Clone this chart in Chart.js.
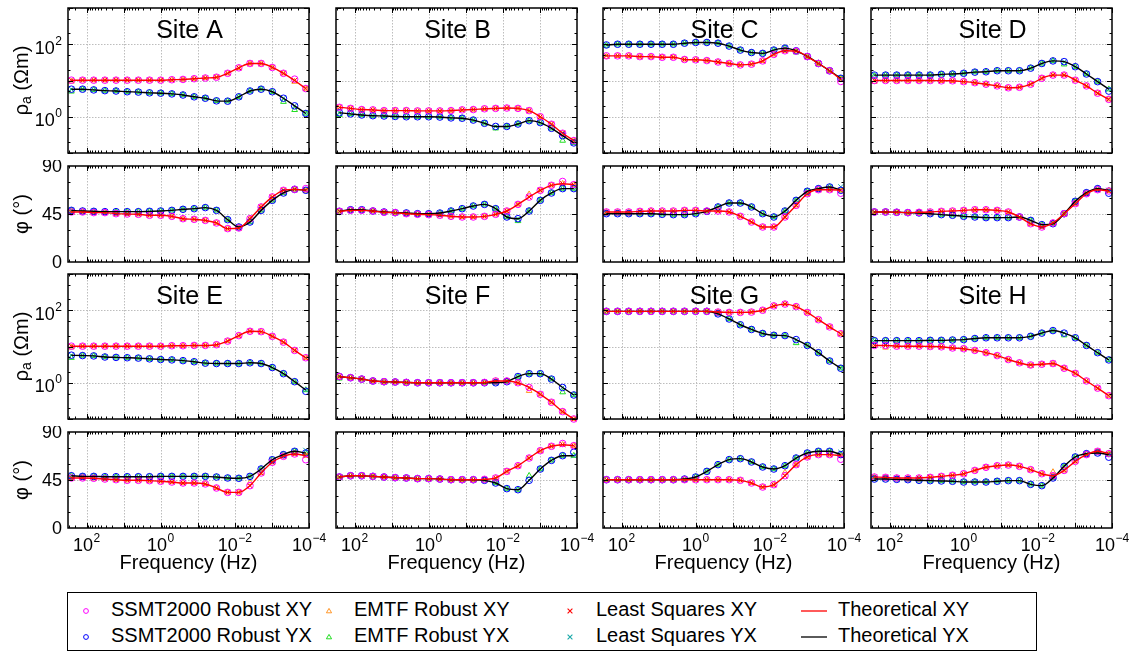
<!DOCTYPE html>
<html>
<head>
<meta charset="utf-8">
<script src="https://cdn.jsdelivr.net/npm/chart.js@4.4.0/dist/chart.umd.min.js"></script>
<style>
  html, body { margin: 0; padding: 0; background: #fff; }
  body { position: relative; width: 1137px; height: 652px; overflow: hidden;
         font-family: "Liberation Sans", Arial, sans-serif; color: #000; }
  canvas { position: absolute; }
  #legend { position: absolute; left: 67px; top: 592px; width: 970px; height: 59px;
            border: 1.5px solid #000; box-sizing: border-box; background: #fff; }
  .lt { position: absolute; font-size: 20px; line-height: 22px; white-space: nowrap; }
  .lm { position: absolute; }
</style>
</head>
<body>
<div id="legend"></div>
<script>
// ---------------- data ----------------
const SITES = ['A', 'B', 'C', 'D', 'E', 'F', 'G', 'H'];

// sounding frequencies (Hz), halving from 256 Hz
const FREQ_HZ = [256, 128, 64, 32, 16, 8, 4, 2, 1, 0.5, 0.25, 0.125, 0.0625, 0.03125,
  0.015625, 0.0078125, 0.00390625, 0.001953125, 0.0009765625, 0.00048828125,
  0.000244140625, 0.0001220703125];

// axis tick labels
const FREQ_TICK_EXPONENTS = [2, 0, -2, -4];
const RHO_TICK_EXPONENTS = [0, 2];
const PHASE_TICKS = [0, 45, 90];

// theoretical responses: apparent resistivity (Ohm m) and phase (deg)
const siteA_rhoXY = [10.2,10.2,10.2,10.2,10.2,10.2,10.2,10.2,10.2,10.5,10.7,11.2,11.7,12.3,15.8,22.4,29.5,29.5,22.9,15.8,10.0,6.0];
const siteA_rhoYX = [5.75,5.75,5.5,5.25,5.13,4.9,4.79,4.57,4.47,4.27,3.98,3.55,3.24,2.75,2.69,3.55,5.13,5.75,4.9,3.24,2.0,1.23];
const siteA_phXY  = [46.9,46.9,46.3,46.3,45.3,45.0,44.7,43.8,43.8,42.8,40.6,40.0,39.0,36.6,31.3,31.9,40.6,51.6,61.0,67.2,68.1,67.2];
const siteA_phYX  = [48.4,47.8,47.5,47.2,47.2,47.2,47.2,47.5,47.8,48.4,49.4,50.0,51.0,48.4,39.7,32.8,37.5,48.4,57.8,64.7,68.1,67.2];

const siteB_rhoXY = [1.82,1.70,1.58,1.55,1.48,1.48,1.48,1.45,1.45,1.45,1.48,1.55,1.58,1.66,1.70,1.74,1.70,1.48,1.0,0.62,0.35,0.22];
const siteB_rhoYX = [1.29,1.20,1.12,1.07,1.05,1.02,1.0,1.0,1.0,0.98,0.93,0.91,0.81,0.66,0.54,0.54,0.63,0.78,0.69,0.48,0.30,0.19];
const siteB_phXY  = [47.5,48.4,48.4,47.8,46.6,46.3,45.3,44.7,44.4,43.8,42.8,42.2,42.2,42.8,44.7,47.8,54.0,60.9,67.2,71.9,73.4,72.5];
const siteB_phYX  = [47.5,49.0,49.0,47.8,46.9,46.3,46.0,45.3,45.3,45.9,47.8,50.0,52.5,54.0,50.0,42.2,40.6,47.8,57.8,64.7,68.8,68.8];

const siteC_rhoXY = [47.9,47.9,47.9,45.7,45.7,43.7,43.7,38.0,37.2,35.5,32.4,29.5,26.9,28.2,34.7,52.5,66.0,64.6,45.7,29.5,18.6,10.7];
const siteC_rhoYX = [95.5,100,100,100,100,100,100,107,112,112,107,89,69,59,56,69,78,66,46,29.5,18.6,11.5];
const siteC_phXY  = [46.9,46.9,46.9,47.5,47.8,47.8,47.8,48.4,48.4,47.8,47.8,46.9,42.8,37.5,32.8,32.8,42.2,53.1,64.0,67.8,67.8,67.2];
const siteC_phYX  = [45.3,45.3,45.3,45.3,45.3,44.7,44.4,44.4,45.3,47.5,51.6,55.3,55.3,51.6,45.3,42.2,47.8,57.8,66.3,68.8,70.3,67.2];

const siteD_rhoXY = [10,10,10,10,10,10,9.8,9.8,9.3,8.7,7.9,7.1,6.3,6.5,7.9,11.5,14.1,14.1,10.2,7.1,4.47,3.02];
const siteD_rhoYX = [14.1,14.1,14.1,14.1,14.1,14.1,14.8,15.1,15.8,17.0,17.4,18.6,18.6,18.6,21.9,29.5,34.7,33.1,24.0,15.1,9.3,5.75];
const siteD_phXY  = [46.9,46.9,46.6,46.3,46.6,46.9,47.5,47.8,48.4,49.0,49.0,48.4,46.9,42.2,35.9,32.8,36.6,45.3,54.7,64.0,67.8,66.6];
const siteD_phYX  = [46.9,46.9,46.6,46.3,46.0,45.3,44.4,43.8,42.8,42.2,41.6,41.6,41.6,42.2,39.0,35.0,35.9,45.3,56.9,65.0,68.8,67.2];

const siteE_rhoXY = [10.2,10.2,10.2,10.2,10.2,10.2,10.2,10.2,10.2,10.5,10.5,10.7,10.7,11.2,14.1,20.0,26.3,25.7,19.1,13.2,7.8,4.9];
const siteE_rhoYX = [5.75,5.62,5.5,5.13,5.0,4.9,4.79,4.57,4.37,4.27,4.07,3.8,3.47,3.39,3.39,3.39,3.55,3.39,2.63,1.78,1.07,0.63];
const siteE_phXY  = [46.9,46.9,46.6,45.9,45.3,44.7,44.7,44.4,43.8,43.1,42.2,42.2,41.3,37.5,33.4,33.4,39.7,51.6,61.6,67.2,69.4,67.8];
const siteE_phYX  = [49.0,48.4,48.4,48.1,48.1,48.1,48.1,48.1,48.4,48.4,48.4,48.4,48.4,47.8,46.9,46.6,48.4,55.3,64.0,68.8,71.9,70.3];

const siteF_rhoXY = [1.48,1.38,1.26,1.12,1.07,1.05,1.02,1,1,1,1,1,1,1.02,1.12,1.12,1.0,0.74,0.48,0.29,0.16,0.1];
const siteF_rhoYX = [1.48,1.38,1.26,1.12,1.07,1.05,1.02,1,1,1,1,1,1,1,1,1.07,1.48,1.78,1.78,1.26,0.74,0.46];
const siteF_phXY  = [47.8,49.0,49.0,48.4,47.8,47.2,46.9,46.3,46.3,45.9,45.3,45.3,45.3,45.6,46.9,53.1,58.4,65.6,72.5,76.6,78.1,77.2];
const siteF_phYX  = [47.8,49.0,49.0,48.4,47.8,47.2,46.9,46.3,46.3,45.9,45.3,45.3,45.3,44.7,42.2,36.9,35.9,44.7,55.3,63.4,67.8,67.8];

const siteG_rhoXY = [93.3,93.3,93.3,93.3,93.3,93.3,93.3,93.3,93.3,93.3,89.1,87.1,87.1,89.1,100,132,148,126,87.1,55.0,34.7,22.4];
const siteG_rhoYX = [93.3,93.3,93.3,93.3,93.3,93.3,93.3,93.3,93.3,93.3,79.4,57.5,39.8,29.5,22.9,20.4,20.0,15.5,10.7,6.76,3.98,2.51];
const siteG_phXY  = [45.3,45.3,45.3,45.3,45.3,45.3,45.3,45.3,45.3,45.3,45.3,45.3,44.7,42.2,38.4,40.6,49.0,59.4,66.6,68.8,68.8,67.8];
const siteG_phYX  = [45.3,45.3,45.3,45.3,45.3,45.3,45.3,45.9,47.8,53.1,59.4,64.1,65.0,61.9,57.2,55.3,58.4,65.6,70.3,71.9,71.9,68.8];

const siteH_rhoXY = [10.7,10.7,10.2,10.2,10.2,10.0,9.8,9.1,8.7,7.8,6.76,5.62,4.37,3.55,3.09,3.24,3.39,2.51,1.82,1.12,0.71,0.44];
const siteH_rhoYX = [14.5,14.5,14.5,14.5,14.5,14.8,14.8,15.1,15.5,16.6,17.4,17.4,17.4,17.4,19.1,23.4,27.5,23.4,17.4,10.7,6.76,4.27];
const siteH_phXY  = [47.8,47.5,46.9,46.9,46.9,47.5,48.4,49.4,50.9,54.0,56.9,58.4,59.0,57.8,54.7,50.9,49.0,54.0,62.5,68.8,71.9,69.7];
const siteH_phYX  = [45.9,45.9,45.6,45.3,44.7,44.4,44.1,43.8,43.1,43.1,43.1,43.8,44.4,44.4,40.9,39.7,46.9,57.8,66.6,69.7,70.3,68.8];

// processed estimates that depart from the model curve:
// [site, method, quantity, frequency index, value]
const ESTIMATE_DEPARTURES = [
  ['A','emtf','rhoXY',0,9.4], ['A','emtf','rhoYX',0,5.0], ['A','ssmt','rhoXY',20,10.9],
  ['A','emtf','rhoXY',20,9.3], ['A','emtf','rhoYX',19,2.6], ['A','emtf','rhoYX',20,1.55],
  ['A','ssmt','phXY',21,68.8],
  ['B','emtf','rhoYX',0,1.13], ['B','emtf','rhoYX',14,0.48], ['B','emtf','rhoYX',20,0.22],
  ['B','ssmt','phXY',20,75.5], ['B','emtf','phYX',16,38.5], ['B','emtf','phXY',17,63.5],
  ['C','emtf','rhoYX',0,92], ['C','emtf','rhoXY',0,45], ['C','ssmt','rhoXY',21,9.4],
  ['C','emtf','rhoYX',17,60], ['C','ssmt','phXY',21,64.5], ['C','ls','phYX',21,70.5],
  ['D','emtf','rhoYX',0,13.5], ['D','emtf','rhoXY',0,9.3], ['D','ssmt','rhoYX',21,5.1],
  ['D','ssmt','phYX',21,64.5], ['D','emtf','rhoYX',17,28],
  ['E','emtf','rhoYX',0,4.9], ['E','emtf','rhoXY',0,9.5], ['E','ssmt','phXY',21,64.0],
  ['E','ls','phYX',21,72.8], ['E','emtf','phXY',16,42.5], ['E','ssmt','rhoYX',21,0.58],
  ['F','emtf','rhoYX',0,1.32], ['F','emtf','rhoXY',17,0.6], ['F','emtf','rhoYX',20,0.55],
  ['F','ssmt','phXY',20,79.2], ['F','ssmt','phYX',21,71.0], ['F','emtf','phYX',17,49.0],
  ['G','emtf','rhoYX',0,90], ['G','emtf','rhoYX',17,12.5], ['G','ssmt','phXY',21,64.5],
  ['G','ls','phYX',21,71.0], ['G','emtf','phXY',16,52.0],
  ['H','emtf','rhoXY',1,9.4], ['H','emtf','rhoYX',17,20.5], ['H','ssmt','phYX',21,66.4],
  ['H','emtf','rhoXY',14,2.95], ['H','emtf','phXY',16,52.5]
];

// model table built from the per-site arrays
const MODEL = {
  A: { rhoXY: siteA_rhoXY, rhoYX: siteA_rhoYX, phXY: siteA_phXY, phYX: siteA_phYX },
  B: { rhoXY: siteB_rhoXY, rhoYX: siteB_rhoYX, phXY: siteB_phXY, phYX: siteB_phYX },
  C: { rhoXY: siteC_rhoXY, rhoYX: siteC_rhoYX, phXY: siteC_phXY, phYX: siteC_phYX },
  D: { rhoXY: siteD_rhoXY, rhoYX: siteD_rhoYX, phXY: siteD_phXY, phYX: siteD_phYX },
  E: { rhoXY: siteE_rhoXY, rhoYX: siteE_rhoYX, phXY: siteE_phXY, phYX: siteE_phYX },
  F: { rhoXY: siteF_rhoXY, rhoYX: siteF_rhoYX, phXY: siteF_phXY, phYX: siteF_phYX },
  G: { rhoXY: siteG_rhoXY, rhoYX: siteG_rhoYX, phXY: siteG_phXY, phYX: siteG_phYX },
  H: { rhoXY: siteH_rhoXY, rhoYX: siteH_rhoYX, phXY: siteH_phXY, phYX: siteH_phYX }
};

function estimate(site, method, q) {
  const vals = MODEL[site][q].slice();
  for (const [s, m, qq, i, v] of ESTIMATE_DEPARTURES) {
    if (s === site && m === method && qq === q) vals[i] = v;
  }
  return vals;
}

// ---------------- layout & styles ----------------
const FONT = '"Liberation Sans", Arial, sans-serif';
const COL_LEFT = [68, 336, 603, 871];
const PLOT_W = 241;
const ROWS = [ { rhoTop: 8, phTop: 166 }, { rhoTop: 274, phTop: 432 } ];
const RHO_H = 145, PH_H = 96;
const PAD = { left: 64, right: 36, top: 6, bottom: 54 };
const X_MIN = 1e-4, X_MAX = Math.pow(10, 2.5);

const METHODS = [
  { key: 'ssmt', label: 'SSMT2000 Robust', style: 'circle',   xy: '#ff00ff', yx: '#0000ff', order: 1 },
  { key: 'ls',   label: 'Least Squares',   style: 'crossRot', xy: '#ff0000', yx: '#17a8a8', order: 2 },
  { key: 'emtf', label: 'EMTF Robust',     style: 'triangle', xy: '#ff9628', yx: '#22dd22', order: 3 }
];

Chart.defaults.font.family = FONT;

function drawPow(ctx, e, x, yc, align) {
  const base = '10';
  const sup = e < 0 ? '\u2212' + (-e) : String(e);
  ctx.font = '18px ' + FONT;
  const wb = ctx.measureText(base).width;
  ctx.font = '12px ' + FONT;
  const ws = ctx.measureText(sup).width;
  const w = wb + ws + 0.5;
  const x0 = align === 'right' ? x - w : (align === 'center' ? x - w / 2 : x);
  ctx.textAlign = 'left';
  ctx.textBaseline = 'alphabetic';
  ctx.font = '18px ' + FONT;
  ctx.fillText(base, x0, yc + 9.5);
  ctx.font = '12px ' + FONT;
  ctx.fillText(sup, x0 + wb + 0.5, yc + 0.5);
}

const panelPlugin = {
  id: 'panel',
  beforeDatasetsDraw(chart, args, o) {
    const { ctx, chartArea: a } = chart;
    const x = chart.scales.x, y = chart.scales.y;
    ctx.save();
    ctx.strokeStyle = '#bdbdbd';
    ctx.lineWidth = 1;
    ctx.setLineDash([1.5, 1.5]);
    ctx.beginPath();
    for (let e = -3; e <= 2; e++) {
      const px = Math.round(x.getPixelForValue(Math.pow(10, e))) + 0.5;
      ctx.moveTo(px, a.top); ctx.lineTo(px, a.bottom);
    }
    const yGrid = o.kind === 'rho' ? [1, 10, 100] : [45];
    for (const v of yGrid) {
      const py = Math.round(y.getPixelForValue(v)) + 0.5;
      ctx.moveTo(a.left, py); ctx.lineTo(a.right, py);
    }
    ctx.stroke();
    ctx.restore();
  },
  afterDraw(chart, args, o) {
    const { ctx, chartArea: a } = chart;
    const x = chart.scales.x, y = chart.scales.y;
    ctx.save();
    // inward tick marks on all four sides
    ctx.strokeStyle = '#000';
    ctx.lineWidth = 1;
    ctx.beginPath();
    for (let e = -4; e <= 2; e++) {
      for (let m = 1; m <= 9; m++) {
        const v = m * Math.pow(10, e);
        if (v < X_MIN * 0.999 || v > X_MAX * 1.001) continue;
        const len = m === 1 ? 5 : 2.5;
        const px = Math.round(x.getPixelForValue(v)) + 0.5;
        ctx.moveTo(px, a.bottom); ctx.lineTo(px, a.bottom - len);
        ctx.moveTo(px, a.top); ctx.lineTo(px, a.top + len);
      }
    }
    const yTicks = [];
    if (o.kind === 'rho') {
      for (let e = -1; e <= 3; e++) {
        yTicks.push([Math.pow(10, e), 5]);
        if (e < 3) { yTicks.push([2 * Math.pow(10, e), 2.5]); yTicks.push([5 * Math.pow(10, e), 2.5]); }
      }
    } else {
      [[15, 2.5], [30, 2.5], [45, 5], [60, 2.5], [75, 2.5]].forEach(t => yTicks.push(t));
    }
    for (const [v, len] of yTicks) {
      const py = Math.round(y.getPixelForValue(v)) + 0.5;
      ctx.moveTo(a.left, py); ctx.lineTo(a.left + len, py);
      ctx.moveTo(a.right, py); ctx.lineTo(a.right - len, py);
    }
    ctx.stroke();
    // frame
    ctx.lineWidth = 1.5;
    ctx.strokeRect(a.left, a.top, a.right - a.left, a.bottom - a.top);

    ctx.fillStyle = '#000';
    if (o.showY) {
      if (o.kind === 'rho') {
        for (const e of RHO_TICK_EXPONENTS) drawPow(ctx, e, a.left - 6, y.getPixelForValue(Math.pow(10, e)), 'right');
      } else {
        ctx.font = '18px ' + FONT;
        ctx.textAlign = 'right';
        ctx.textBaseline = 'middle';
        for (const v of PHASE_TICKS) ctx.fillText(String(v), a.left - 6, y.getPixelForValue(v) + 1);
      }
      // rotated axis title
      ctx.save();
      ctx.translate(a.left - 46, (a.top + a.bottom) / 2);
      ctx.rotate(-Math.PI / 2);
      ctx.textBaseline = 'middle';
      ctx.textAlign = 'left';
      if (o.kind === 'rho') {
        ctx.font = '20px ' + FONT;
        const w1 = ctx.measureText('\u03c1').width;
        const w3 = ctx.measureText(' (\u03a9m)').width;
        ctx.font = '14px ' + FONT;
        const w2 = ctx.measureText('a').width;
        const x0 = -(w1 + w2 + w3) / 2;
        ctx.font = '20px ' + FONT;
        ctx.fillText('\u03c1', x0, 0);
        ctx.font = '14px ' + FONT;
        ctx.fillText('a', x0 + w1, 5);
        ctx.font = '20px ' + FONT;
        ctx.fillText(' (\u03a9m)', x0 + w1 + w2, 0);
      } else {
        ctx.font = '20px ' + FONT;
        ctx.textAlign = 'center';
        ctx.fillText('\u03c6 (\u00b0)', 0, 0);
      }
      ctx.restore();
    }
    if (o.showX) {
      for (const e of FREQ_TICK_EXPONENTS) drawPow(ctx, e, x.getPixelForValue(Math.pow(10, e)), a.bottom + 13.5, 'center');
      ctx.font = '20px ' + FONT;
      ctx.textAlign = 'center';
      ctx.textBaseline = 'middle';
      ctx.fillText('Frequency (Hz)', (a.left + a.right) / 2, a.bottom + 35);
    }
    if (o.title) {
      ctx.font = '25px ' + FONT;
      ctx.textAlign = 'center';
      ctx.textBaseline = 'middle';
      ctx.fillText(o.title, (a.left + a.right) / 2 + 1, a.top + 23);
    }
    ctx.restore();
  }
};

function points(vals) {
  return FREQ_HZ.map((f, i) => ({ x: f, y: vals[i] }));
}

function makePanel(site, kind, col, row) {
  const isRho = kind === 'rho';
  const top = isRho ? ROWS[row].rhoTop : ROWS[row].phTop;
  const h = isRho ? RHO_H : PH_H;
  const cv = document.createElement('canvas');
  const W = PLOT_W + PAD.left + PAD.right;
  const H = h + PAD.top + PAD.bottom;
  cv.width = W; cv.height = H;
  cv.style.width = W + 'px'; cv.style.height = H + 'px';
  cv.style.left = (COL_LEFT[col] - PAD.left) + 'px';
  cv.style.top = (top - PAD.top) + 'px';
  document.body.appendChild(cv);

  const qXY = isRho ? 'rhoXY' : 'phXY';
  const qYX = isRho ? 'rhoYX' : 'phYX';
  const datasets = [
    { label: 'Theoretical XY', data: points(MODEL[site][qXY]), borderColor: '#ff0000', borderWidth: 1.4,
      pointRadius: 0, cubicInterpolationMode: 'monotone', order: 0, clip: false },
    { label: 'Theoretical YX', data: points(MODEL[site][qYX]), borderColor: '#000000', borderWidth: 1.4,
      pointRadius: 0, cubicInterpolationMode: 'monotone', order: 0, clip: false }
  ];
  for (const m of METHODS) {
    for (const [mode, q] of [['XY', qXY], ['YX', qYX]]) {
      const color = mode === 'XY' ? m.xy : m.yx;
      datasets.push({
        label: m.label + ' ' + mode,
        data: points(estimate(site, m.key, q)),
        showLine: false,
        pointStyle: m.style,
        pointRadius: m.style === 'crossRot' ? 3.6 : 3.3,
        pointBorderWidth: 1,
        pointBorderColor: color,
        pointBackgroundColor: 'rgba(0,0,0,0)',
        borderColor: color,
        order: m.order,
        clip: false
      });
    }
  }

  new Chart(cv, {
    type: 'line',
    data: { datasets },
    options: {
      responsive: false,
      animation: false,
      devicePixelRatio: 1,
      events: [],
      layout: { padding: PAD },
      scales: {
        x: { type: 'logarithmic', reverse: true, min: X_MIN, max: X_MAX, display: false },
        y: isRho ? { type: 'logarithmic', min: 0.1, max: 1000, display: false }
                 : { type: 'linear', min: 0, max: 90, display: false }
      },
      plugins: {
        legend: { display: false },
        tooltip: { enabled: false },
        panel: {
          kind,
          showY: col === 0,
          showX: !isRho && row === 1,
          title: isRho ? 'Site ' + site : null
        }
      }
    },
    plugins: [panelPlugin]
  });
}

SITES.forEach((s, i) => {
  const row = Math.floor(i / 4), col = i % 4;
  makePanel(s, 'rho', col, row);
  makePanel(s, 'phase', col, row);
});

// ---------------- legend ----------------
const legend = document.getElementById('legend');
const LX = 67, LY = 592;
function marker(style, color) {
  if (style === 'circle') return `<svg width="12" height="12"><circle cx="6" cy="6" r="2.4" fill="none" stroke="${color}" stroke-width="1"/></svg>`;
  if (style === 'triangle') return `<svg width="12" height="12"><polygon points="6,3.4 8.6,7.8 3.4,7.8" fill="none" stroke="${color}" stroke-width="1"/></svg>`;
  if (style === 'crossRot') return `<svg width="12" height="12"><path d="M3.6,3.6 L8.4,8.4 M8.4,3.6 L3.6,8.4" stroke="${color}" stroke-width="1.1"/></svg>`;
  return `<svg width="28" height="12"><line x1="1" y1="6" x2="27" y2="6" stroke="${color}" stroke-width="1.3"/></svg>`;
}
const LEGEND_COLS = [
  { mx: 85, tx: 110, method: METHODS[0] },
  { mx: 328, tx: 353, method: METHODS[2] },
  { mx: 569, tx: 595, method: METHODS[1] },
  { mx: 813, tx: 837, method: null }
];
const LEGEND_ROWS = [ { yc: 608, mode: 'XY' }, { yc: 634, mode: 'YX' } ];
for (const c of LEGEND_COLS) {
  for (const r of LEGEND_ROWS) {
    const style = c.method ? c.method.style : 'line';
    const color = c.method ? (r.mode === 'XY' ? c.method.xy : c.method.yx) : (r.mode === 'XY' ? '#ff0000' : '#000000');
    const label = (c.method ? c.method.label : 'Theoretical') + ' ' + r.mode;
    const mk = document.createElement('div');
    mk.className = 'lm';
    const mw = style === 'line' ? 28 : 12;
    mk.style.left = (c.mx - mw / 2 - LX) + 'px';
    mk.style.top = (r.yc - 6 - LY) + 'px';
    mk.style.height = '12px';
    mk.innerHTML = marker(style, color);
    legend.appendChild(mk);
    const t = document.createElement('div');
    t.className = 'lt';
    t.style.left = (c.tx - LX) + 'px';
    t.style.top = (r.yc - 11 - LY) + 'px';
    t.textContent = label;
    legend.appendChild(t);
  }
}
</script>
</body>
</html>
